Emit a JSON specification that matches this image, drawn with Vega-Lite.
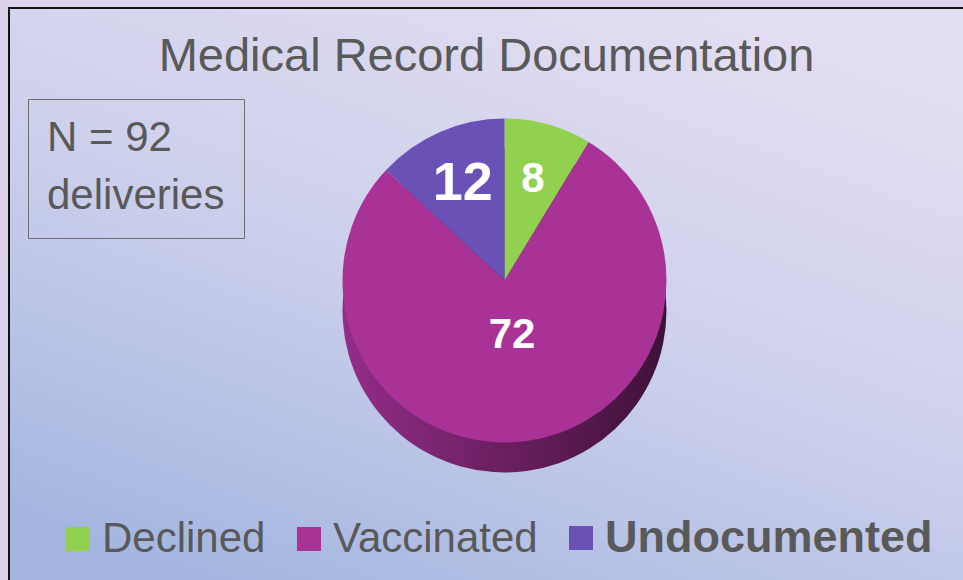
{
  "$schema": "https://vega.github.io/schema/vega-lite/v6.json",
  "autosize": {"type": "fit", "contains": "padding"},
  "width": 963,
  "height": 580,
  "padding": {"left": 8, "top": 7, "right": -2, "bottom": -2},
  "background": "#dcd2ec",
  "title": {
    "text": "Medical Record Documentation",
    "font": "Liberation Sans",
    "fontSize": 47,
    "fontWeight": "normal",
    "color": "#595959",
    "anchor": "middle",
    "frame": "group",
    "baseline": "alphabetic",
    "offset": -111
  },
  "data": {
    "values": [
      {"category": "Declined", "count": 8, "slice": 1, "unit": "deliveries"},
      {"category": "Vaccinated", "count": 72, "slice": 2, "unit": "deliveries"},
      {"category": "Undocumented", "count": 12, "slice": 3, "unit": "deliveries"}
    ]
  },
  "layer": [
    {
      "data": {"values": [{}]},
      "mark": {
        "type": "rect",
        "stroke": "#111111",
        "strokeWidth": 2,
        "fill": {
          "gradient": "linear",
          "x1": 0.8, "y1": 0, "x2": 0.2, "y2": 1,
          "stops": [
            {"offset": 0, "color": "#e4def2"},
            {"offset": 0.5, "color": "#cdd0ec"},
            {"offset": 1, "color": "#a4b6e0"}
          ]
        }
      }
    },
    {
      "mark": {
        "type": "arc",
        "outerRadius": 162,
        "xOffset": 18,
        "yOffset": 16,
        "stroke": null,
        "fill": {
          "gradient": "linear",
          "x1": 0, "y1": 0, "x2": 1, "y2": 0,
          "stops": [
            {"offset": 0, "color": "#932d88"},
            {"offset": 0.5, "color": "#6a1f60"},
            {"offset": 1, "color": "#3d1237"}
          ]
        }
      },
      "encoding": {
        "theta": {"field": "count", "type": "quantitative", "stack": true},
        "order": {"field": "slice", "type": "quantitative", "sort": "ascending"}
      }
    },
    {
      "mark": {"type": "arc", "outerRadius": 162, "xOffset": 18, "yOffset": -14, "stroke": null},
      "encoding": {
        "theta": {"field": "count", "type": "quantitative", "stack": true},
        "order": {"field": "slice", "type": "quantitative", "sort": "ascending"},
        "color": {
          "field": "category",
          "type": "nominal",
          "sort": ["Declined", "Vaccinated", "Undocumented"],
          "scale": {
            "domain": ["Declined", "Vaccinated", "Undocumented"],
            "range": ["#92d050", "#a83296", "#6a51b6"]
          },
          "legend": {
            "title": null,
            "orient": "none",
            "direction": "horizontal",
            "legendX": 48,
            "legendY": 509,
            "padding": 0,
            "symbolType": "square",
            "symbolSize": 576,
            "symbolStrokeWidth": 0,
            "symbolOpacity": 1,
            "labelFont": "Liberation Sans",
            "labelFontSize": {"expr": "datum.value === 'Undocumented' ? 45 : 42"},
            "labelFontWeight": {"expr": "datum.value === 'Undocumented' ? 'bold' : 'normal'"},
            "labelColor": "#595959",
            "labelOffset": 3,
            "labelLimit": 500,
            "columnPadding": 22
          }
        },
        "opacity": {
          "field": "unit",
          "type": "ordinal",
          "scale": {"range": [1, 1]},
          "legend": {
            "title": ["N = 92", "deliveries"],
            "orient": "none",
            "legendX": 19,
            "legendY": 91,
            "padding": 19,
            "strokeColor": "#6e6e6e",
            "titleFont": "Liberation Sans",
            "titleFontSize": 42,
            "titleLineHeight": 58,
            "titleFontWeight": "normal",
            "titleColor": "#595959",
            "titlePadding": 0,
            "titleLimit": 400,
            "labelFontSize": 1,
            "labelOpacity": 0,
            "labelOffset": 0,
            "symbolSize": 0,
            "symbolOpacity": 0,
            "symbolStrokeWidth": 0
          }
        }
      }
    },
    {
      "mark": {
        "type": "text",
        "radius": {"expr": "datum.category === 'Vaccinated' ? 55 : 105"},
        "xOffset": 18,
        "yOffset": -14,
        "color": "white",
        "font": "Liberation Sans",
        "fontWeight": "bold"
      },
      "encoding": {
        "theta": {"field": "count", "type": "quantitative", "stack": true},
        "order": {"field": "slice", "type": "quantitative", "sort": "ascending"},
        "text": {"field": "count", "type": "quantitative"},
        "size": {"condition": {"test": "datum.category === 'Undocumented'", "value": 54}, "value": 42}
      }
    }
  ],
  "config": {
    "view": {"stroke": null}
  }
}
